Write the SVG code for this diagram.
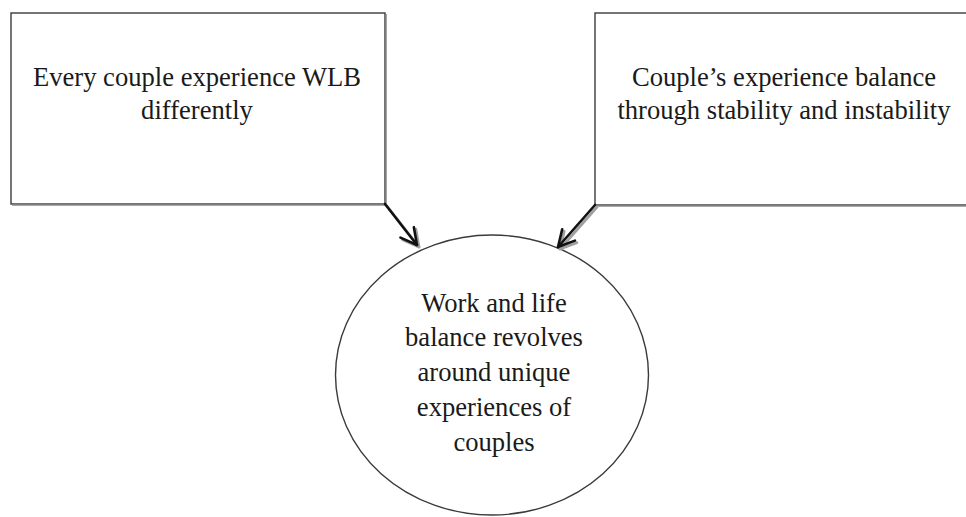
<svg xmlns="http://www.w3.org/2000/svg" width="966" height="517" viewBox="0 0 966 517">
  <defs>
    <style>
      .box { fill: #ffffff; stroke: #3a3a3a; stroke-width: 1.4; }
      .box-shade { fill: none; stroke: #8a8a8a; stroke-width: 1.2; }
      .oval { fill: #ffffff; stroke: #3a3a3a; stroke-width: 1.4; }
      .label { font-family: "Liberation Serif", "Times New Roman", serif; font-size: 26.6px; fill: #1a1a1a; text-anchor: middle; }
      .edge { fill: none; stroke: #111111; stroke-width: 2.6; stroke-linecap: round; stroke-linejoin: round; }
      .edge-shadow { fill: none; stroke: #a0a0a0; stroke-width: 2.8; stroke-linecap: round; stroke-linejoin: round; }
    </style>
    <marker id="vee" viewBox="0 0 22 22" refX="19" refY="11" markerWidth="22" markerHeight="22" markerUnits="userSpaceOnUse" orient="auto">
      <path d="M3,2.5 L19,11 L3,19.5" fill="none" stroke="#111111" stroke-width="2.6" stroke-linecap="round" stroke-linejoin="round"/>
    </marker>
    <marker id="vee-shadow" viewBox="0 0 22 22" refX="19" refY="11" markerWidth="22" markerHeight="22" markerUnits="userSpaceOnUse" orient="auto">
      <path d="M3,2.5 L19,11 L3,19.5" fill="none" stroke="#a0a0a0" stroke-width="2.8" stroke-linecap="round" stroke-linejoin="round"/>
    </marker>
  </defs>

  <rect width="966" height="517" fill="#ffffff"/>

  <g id="node-every-couple">
    <rect class="box" x="11" y="13" width="374" height="191"/>
    <path class="box-shade" d="M386.2,14 V205.2 H12"/>
    <text class="label" x="197" y="86">Every couple experience WLB</text>
    <text class="label" x="197" y="119">differently</text>
  </g>

  <g id="node-couples-balance">
    <rect class="box" x="595" y="13" width="380" height="192"/>
    <path class="box-shade" d="M596,206.2 H966"/>
    <text class="label" x="784" y="86">Couple’s experience balance</text>
    <text class="label" x="784" y="119">through stability and instability</text>
  </g>

  <g id="node-wlb-core">
    <ellipse class="oval" cx="492" cy="375" rx="156.5" ry="140"/>
    <text class="label" x="494" y="312">Work and life</text>
    <text class="label" x="494" y="346">balance revolves</text>
    <text class="label" x="494" y="381">around unique</text>
    <text class="label" x="494" y="416">experiences of</text>
    <text class="label" x="494" y="451">couples</text>
  </g>

  <g id="connectors">
    <path class="edge-shadow" d="M387,206 L419,247" marker-end="url(#vee-shadow)"/>
    <path class="edge-shadow" d="M597,207 L560,249" marker-end="url(#vee-shadow)"/>
    <path class="edge" d="M385,204 L417,245" marker-end="url(#vee)"/>
    <path class="edge" d="M595,205 L558,247" marker-end="url(#vee)"/>
  </g>
</svg>
